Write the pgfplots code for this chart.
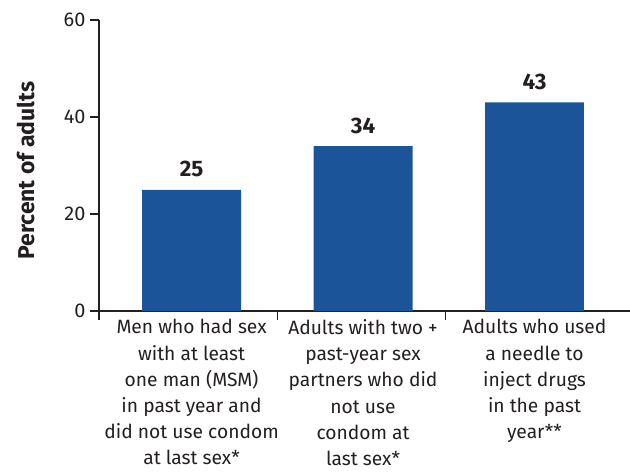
\documentclass[border=0pt]{standalone}
\usepackage{fontspec}
\setmainfont{Fira Sans}
\usepackage{pgfplots}
\pgfplotsset{compat=1.18}
\definecolor{barblue}{HTML}{1B5499}
\definecolor{txt}{HTML}{231F20}
\begin{document}
\begin{tikzpicture}
\path[use as bounding box] (-99bp,-163bp) rectangle (531bp,311bp);
\begin{axis}[
  scale only axis, width=531bp, height=291bp,
  at={(0,0)}, anchor=south west,
  xmin=-0.54, xmax=2.557, ymin=0, ymax=60,
  axis lines*=left,
  clip=false,
  axis line style={line width=1.6bp, txt},
  /pgf/number format/assume math mode=true,
  ytick={0,20,40,60},
  tick align=outside,
  major tick length=9bp,
  every tick/.style={line width=1.6bp, txt},
  yticklabel style={font=\fontsize{20}{22}\selectfont, text=txt, xshift=-1bp},
  xtick={-0.54,0.5,1.48},
  xticklabels={},
  extra x ticks={0,1,2},
  extra x tick style={major tick length=0pt},
  extra x tick labels={{Men who had sex\\with at least\\one man (MSM)\\in past year and\\did not use condom\\at last sex*},
    {Adults with two +\\past-year sex\\partners who did\\not use\\condom at\\last sex*},
    {Adults who used\\a needle to\\inject drugs\\in the past\\year**}},
  xticklabel style={font=\fontsize{19.3}{26.3}\selectfont, text=txt, align=center, anchor=north, yshift=-5bp},
  every axis y label/.style={at={(axis description cs:-0.138,0.482)}, rotate=90, anchor=center, font=\bfseries\fontsize{23}{24}\selectfont, text=txt},
  ylabel={Percent of adults},
  nodes near coords,
  every node near coord/.append style={font=\bfseries\fontsize{22.5}{24}\selectfont, text=txt, yshift=9bp},
]
\addplot[ybar, fill=barblue, draw=none, bar width=0.577] coordinates {(0,25) (1,34) (2,43)};
\end{axis}
\end{tikzpicture}
\end{document}
